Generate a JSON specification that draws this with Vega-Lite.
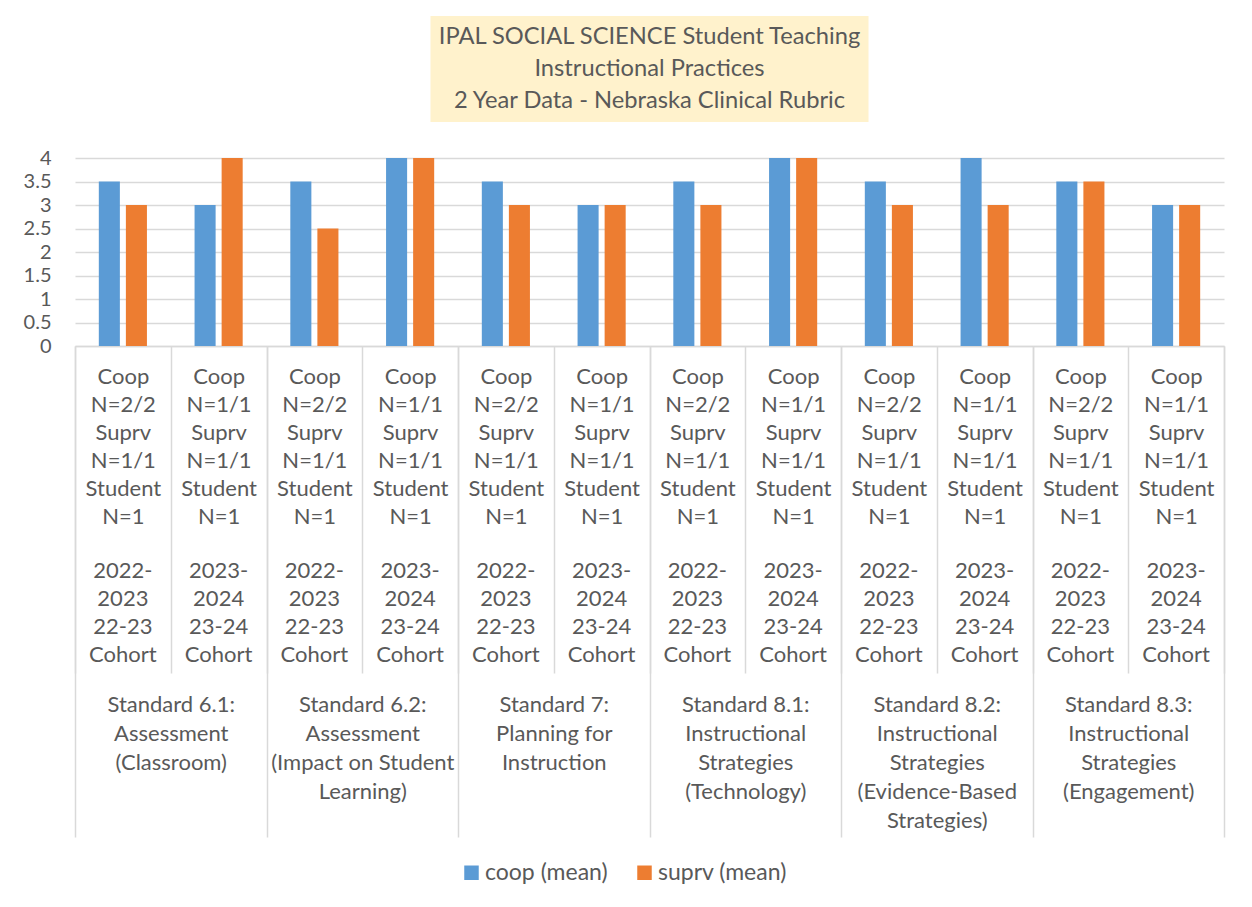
{
  "$schema": "https://vega.github.io/schema/vega-lite/v6.json",
  "background": "white",
  "padding": {"left": 23, "top": 16, "right": 20, "bottom": 20},
  "datasets": {
    "bars": [
      {"std": "Standard 6.1:|Assessment|(Classroom)", "cat": "6.1|Coop|N=2/2|Suprv|N=1/1|Student|N=1|2022-|2023|22-23|Cohort", "series": "coop (mean)", "value": 3.5},
      {"std": "Standard 6.1:|Assessment|(Classroom)", "cat": "6.1|Coop|N=2/2|Suprv|N=1/1|Student|N=1|2022-|2023|22-23|Cohort", "series": "suprv (mean)", "value": 3},
      {"std": "Standard 6.1:|Assessment|(Classroom)", "cat": "6.1|Coop|N=1/1|Suprv|N=1/1|Student|N=1|2023-|2024|23-24|Cohort", "series": "coop (mean)", "value": 3},
      {"std": "Standard 6.1:|Assessment|(Classroom)", "cat": "6.1|Coop|N=1/1|Suprv|N=1/1|Student|N=1|2023-|2024|23-24|Cohort", "series": "suprv (mean)", "value": 4},
      {"std": "Standard 6.2:|Assessment|(Impact on Student|Learning)", "cat": "6.2|Coop|N=2/2|Suprv|N=1/1|Student|N=1|2022-|2023|22-23|Cohort", "series": "coop (mean)", "value": 3.5},
      {"std": "Standard 6.2:|Assessment|(Impact on Student|Learning)", "cat": "6.2|Coop|N=2/2|Suprv|N=1/1|Student|N=1|2022-|2023|22-23|Cohort", "series": "suprv (mean)", "value": 2.5},
      {"std": "Standard 6.2:|Assessment|(Impact on Student|Learning)", "cat": "6.2|Coop|N=1/1|Suprv|N=1/1|Student|N=1|2023-|2024|23-24|Cohort", "series": "coop (mean)", "value": 4},
      {"std": "Standard 6.2:|Assessment|(Impact on Student|Learning)", "cat": "6.2|Coop|N=1/1|Suprv|N=1/1|Student|N=1|2023-|2024|23-24|Cohort", "series": "suprv (mean)", "value": 4},
      {"std": "Standard 7:|Planning for|Instruction", "cat": "7|Coop|N=2/2|Suprv|N=1/1|Student|N=1|2022-|2023|22-23|Cohort", "series": "coop (mean)", "value": 3.5},
      {"std": "Standard 7:|Planning for|Instruction", "cat": "7|Coop|N=2/2|Suprv|N=1/1|Student|N=1|2022-|2023|22-23|Cohort", "series": "suprv (mean)", "value": 3},
      {"std": "Standard 7:|Planning for|Instruction", "cat": "7|Coop|N=1/1|Suprv|N=1/1|Student|N=1|2023-|2024|23-24|Cohort", "series": "coop (mean)", "value": 3},
      {"std": "Standard 7:|Planning for|Instruction", "cat": "7|Coop|N=1/1|Suprv|N=1/1|Student|N=1|2023-|2024|23-24|Cohort", "series": "suprv (mean)", "value": 3},
      {"std": "Standard 8.1:|Instructional|Strategies|(Technology)", "cat": "8.1|Coop|N=2/2|Suprv|N=1/1|Student|N=1|2022-|2023|22-23|Cohort", "series": "coop (mean)", "value": 3.5},
      {"std": "Standard 8.1:|Instructional|Strategies|(Technology)", "cat": "8.1|Coop|N=2/2|Suprv|N=1/1|Student|N=1|2022-|2023|22-23|Cohort", "series": "suprv (mean)", "value": 3},
      {"std": "Standard 8.1:|Instructional|Strategies|(Technology)", "cat": "8.1|Coop|N=1/1|Suprv|N=1/1|Student|N=1|2023-|2024|23-24|Cohort", "series": "coop (mean)", "value": 4},
      {"std": "Standard 8.1:|Instructional|Strategies|(Technology)", "cat": "8.1|Coop|N=1/1|Suprv|N=1/1|Student|N=1|2023-|2024|23-24|Cohort", "series": "suprv (mean)", "value": 4},
      {"std": "Standard 8.2:|Instructional|Strategies|(Evidence-Based|Strategies)", "cat": "8.2|Coop|N=2/2|Suprv|N=1/1|Student|N=1|2022-|2023|22-23|Cohort", "series": "coop (mean)", "value": 3.5},
      {"std": "Standard 8.2:|Instructional|Strategies|(Evidence-Based|Strategies)", "cat": "8.2|Coop|N=2/2|Suprv|N=1/1|Student|N=1|2022-|2023|22-23|Cohort", "series": "suprv (mean)", "value": 3},
      {"std": "Standard 8.2:|Instructional|Strategies|(Evidence-Based|Strategies)", "cat": "8.2|Coop|N=1/1|Suprv|N=1/1|Student|N=1|2023-|2024|23-24|Cohort", "series": "coop (mean)", "value": 4},
      {"std": "Standard 8.2:|Instructional|Strategies|(Evidence-Based|Strategies)", "cat": "8.2|Coop|N=1/1|Suprv|N=1/1|Student|N=1|2023-|2024|23-24|Cohort", "series": "suprv (mean)", "value": 3},
      {"std": "Standard 8.3:|Instructional|Strategies|(Engagement)", "cat": "8.3|Coop|N=2/2|Suprv|N=1/1|Student|N=1|2022-|2023|22-23|Cohort", "series": "coop (mean)", "value": 3.5},
      {"std": "Standard 8.3:|Instructional|Strategies|(Engagement)", "cat": "8.3|Coop|N=2/2|Suprv|N=1/1|Student|N=1|2022-|2023|22-23|Cohort", "series": "suprv (mean)", "value": 3.5},
      {"std": "Standard 8.3:|Instructional|Strategies|(Engagement)", "cat": "8.3|Coop|N=1/1|Suprv|N=1/1|Student|N=1|2023-|2024|23-24|Cohort", "series": "coop (mean)", "value": 3},
      {"std": "Standard 8.3:|Instructional|Strategies|(Engagement)", "cat": "8.3|Coop|N=1/1|Suprv|N=1/1|Student|N=1|2023-|2024|23-24|Cohort", "series": "suprv (mean)", "value": 3}
    ],
    "titleLines": [
      {"line": 1, "text": "IPAL SOCIAL SCIENCE Student Teaching"},
      {"line": 2, "text": "Instructional Practices"},
      {"line": 3, "text": "2 Year Data - Nebraska Clinical Rubric"}
    ]
  },
  "vconcat": [
    {
      "width": 438,
      "height": 106,
      "view": {"fill": "#fff2cc", "stroke": null},
      "data": {"name": "titleLines"},
      "mark": {"type": "text", "font": "Lato", "fontSize": 23.7, "color": "#595959", "baseline": "middle", "align": "center"},
      "encoding": {
        "y": {"field": "line", "type": "ordinal", "scale": {"type": "point", "padding": 0.68}, "axis": null},
        "text": {"field": "text", "type": "nominal"}
      }
    },
    {
      "width": 1149,
      "height": 188,
      "data": {"name": "bars"},
      "layer": [
        {
          "mark": {"type": "bar"},
          "encoding": {
            "x": {
              "field": "cat", "type": "nominal", "sort": null,
              "scale": {"paddingInner": 0, "paddingOuter": 0},
              "axis": {
                "orient": "bottom", "title": null, "tickBand": "extent",
                "tickSize": 327, "tickColor": "#d9d9d9", "tickWidth": 1.5,
                "domainColor": "#d9d9d9", "domainWidth": 1.5,
                "labelPadding": -307, "labelExpr": "slice(split(datum.label, '|'), 1, 7)",
                "labelFont": "Lato", "labelFontSize": 22, "labelColor": "#595959",
                "labelLineHeight": 28, "labelLimit": 0, "labelOverlap": false,
                "labelAngle": 0, "labelBaseline": "top", "labelAlign": "center"
              }
            },
            "xOffset": {"field": "series", "type": "nominal", "scale": {"paddingInner": 0.222, "paddingOuter": 0.88}},
            "y": {
              "field": "value", "type": "quantitative",
              "scale": {"domain": [0, 4], "nice": false},
              "axis": {
                "title": null, "values": [0, 0.5, 1, 1.5, 2, 2.5, 3, 3.5, 4], "format": "~g",
                "grid": true, "gridColor": "#d9d9d9", "gridWidth": 1.5,
                "domain": false, "ticks": false, "labelPadding": 24, "labelOverlap": false,
                "labelFont": "Lato", "labelFontSize": 20, "labelColor": "#595959"
              }
            },
            "color": {
              "field": "series", "type": "nominal",
              "scale": {"domain": ["coop (mean)", "suprv (mean)"], "range": ["#5b9bd5", "#ed7d31"]},
              "legend": {
                "orient": "bottom", "direction": "horizontal", "title": null,
                "symbolType": "square", "symbolSize": 210, "symbolStrokeWidth": 0,
                "labelFont": "Lato", "labelFontSize": 23, "labelColor": "#595959",
                "columnPadding": 25, "offset": 23, "labelOffset": 2
              }
            }
          }
        },
        {
          "mark": {"type": "point", "opacity": 0},
          "encoding": {
            "x": {
              "field": "cat", "type": "nominal", "sort": null,
              "scale": {"type": "band", "paddingInner": 0, "paddingOuter": 0},
              "axis": {
                "orient": "bottom", "title": null, "domain": false, "ticks": false,
                "labelPadding": 214, "labelExpr": "slice(split(datum.label, '|'), 7)",
                "labelFont": "Lato", "labelFontSize": 22, "labelColor": "#595959",
                "labelLineHeight": 28, "labelLimit": 0, "labelOverlap": false,
                "labelAngle": 0, "labelBaseline": "top", "labelAlign": "center"
              }
            },
            "y": {
              "field": "value", "type": "quantitative",
              "scale": {"domain": [0, 4], "nice": false},
              "axis": {
                "title": null, "values": [0, 0.5, 1, 1.5, 2, 2.5, 3, 3.5, 4], "format": "~g",
                "grid": true, "gridColor": "#d9d9d9", "gridWidth": 1.5,
                "domain": false, "ticks": false, "labelPadding": 24, "labelOverlap": false,
                "labelFont": "Lato", "labelFontSize": 20, "labelColor": "#595959"
              }
            }
          }
        },
        {
          "mark": {"type": "point", "opacity": 0},
          "encoding": {
            "x": {
              "field": "std", "type": "nominal", "sort": null,
              "scale": {"type": "band", "paddingInner": 0, "paddingOuter": 0},
              "axis": {
                "orient": "bottom", "title": null, "tickBand": "extent", "domain": false,
                "tickSize": 491, "tickColor": "#d9d9d9", "tickWidth": 1.5,
                "labelPadding": -143, "labelExpr": "split(datum.label, '|')",
                "labelFont": "Lato", "labelFontSize": 22, "labelColor": "#595959",
                "labelLineHeight": 29, "labelLimit": 0, "labelOverlap": false,
                "labelAngle": 0, "labelBaseline": "top", "labelAlign": "center"
              }
            },
            "y": {
              "field": "value", "type": "quantitative",
              "scale": {"domain": [0, 4], "nice": false},
              "axis": {
                "title": null, "values": [0, 0.5, 1, 1.5, 2, 2.5, 3, 3.5, 4], "format": "~g",
                "grid": true, "gridColor": "#d9d9d9", "gridWidth": 1.5,
                "domain": false, "ticks": false, "labelPadding": 24, "labelOverlap": false,
                "labelFont": "Lato", "labelFontSize": 20, "labelColor": "#595959"
              }
            }
          }
        }
      ],
      "resolve": {"scale": {"x": "independent"}, "axis": {"x": "independent"}}
    }
  ],
  "spacing": 36,
  "center": true,
  "bounds": "flush",
  "config": {
    "view": {"stroke": null},
    "legend": {"layout": {"bottom": {"anchor": "middle"}}}
  }
}
